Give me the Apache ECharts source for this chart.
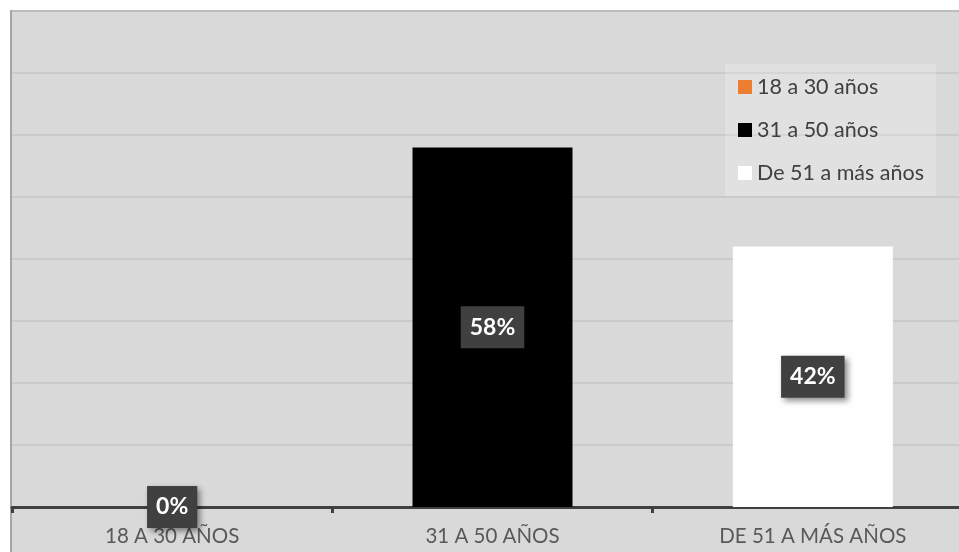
<!DOCTYPE html>
<html><head><meta charset="utf-8">
<script src="https://cdn.jsdelivr.net/npm/echarts@6/dist/echarts.min.js"></script>
<style>html,body{margin:0;padding:0;background:#fff;overflow:hidden;width:959px;height:552px}#c{width:980px;height:552px}</style>
</head><body><div id="c"></div>
<script>
const categories = ['18 A 30 AÑOS', '31 A 50 AÑOS', 'DE 51 A MÁS AÑOS'];
const seriesNames = ['18 a 30 años', '31 a 50 años', 'De 51 a más años'];
const values = [0, 58, 42];
const colors = ['#ed7d31', '#000000', '#ffffff'];
const yMax = 80, yStep = 10;

const FONT = 'Lato, "Liberation Sans", sans-serif';
const chart = echarts.init(document.getElementById('c'));
const series = seriesNames.map((name, i) => ({
  name: name,
  type: 'bar',
  stack: 'all',
  barWidth: 160,
  itemStyle: { color: colors[i] },
  data: categories.map((_, j) => j === i ? values[i] : '-'),
  label: {
    show: true,
    position: 'inside',
    formatter: '{c}%',
    color: '#ffffff',
    fontFamily: FONT,
    fontWeight: 'bold',
    fontSize: 23,
    lineHeight: 24,
    backgroundColor: '#404040',
    padding: [9, 9, 9, 9],
    shadowBlur: 6,
    shadowColor: 'rgba(0,0,0,0.45)',
    shadowOffsetX: 3,
    shadowOffsetY: 3
  }
}));
chart.setOption({
  animation: false,
  graphic: [{
    type: 'rect', z: -10, silent: true,
    shape: { x: 11, y: 11, width: 1000, height: 600 },
    style: { fill: '#d9d9d9', stroke: '#a6a6a6', lineWidth: 2 }
  }],
  grid: { left: 12, top: 11, width: 961, bottom: 45, containLabel: false },
  legend: {
    orient: 'vertical',
    left: 725, top: 64,
    backgroundColor: 'rgba(255,255,255,0.22)',
    padding: [12, 12, 12, 13],
    itemWidth: 14, itemHeight: 14, itemGap: 21,
    icon: 'rect',
    textStyle: { color: '#404040', fontSize: 21.5, fontFamily: FONT, lineHeight: 22 },
    data: seriesNames
  },
  xAxis: {
    type: 'category',
    data: categories,
    axisLine: { lineStyle: { color: '#404040', width: 3 } },
    axisTick: { show: true, length: 6, lineStyle: { color: '#404040', width: 3 } },
    axisLabel: { color: '#595959', fontSize: 20.5, fontFamily: FONT, margin: 19 }
  },
  yAxis: {
    type: 'value', min: 0, max: yMax, interval: yStep,
    axisLabel: { show: false },
    axisLine: { show: false }, axisTick: { show: false },
    splitLine: { lineStyle: { color: '#c4c4c4', width: 1.5 } }
  },
  series: series
});
</script></body></html>
